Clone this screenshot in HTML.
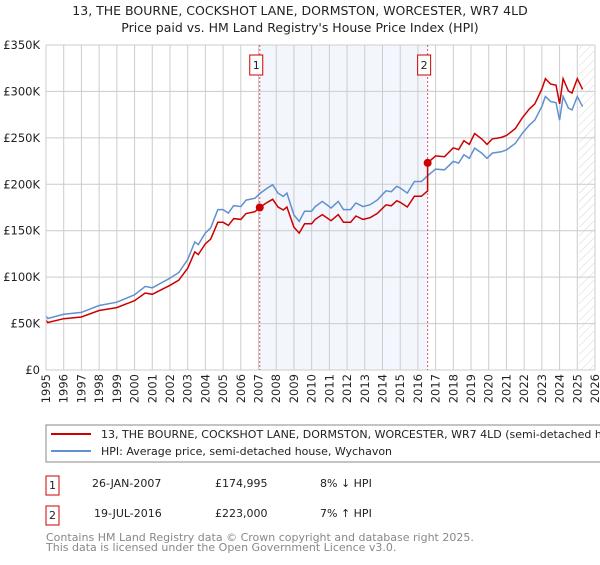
<!DOCTYPE html>
<html><head><meta charset="utf-8"><style>
body{margin:0;background:#fff;font-family:"Liberation Sans","DejaVu Sans",sans-serif;}
svg text{font-family:"DejaVu Sans","Liberation Sans",sans-serif;}
</style></head><body>
<svg id="chart" width="600" height="560" viewBox="0 0 600 560">
<defs><pattern id="hatch" patternUnits="userSpaceOnUse" width="6" height="6" patternTransform="rotate(45)"><line x1="0" y1="0" x2="0" y2="6" stroke="#ccc" stroke-width="0.8"/></pattern></defs>
<text x="300" y="15" font-size="12.5" text-anchor="middle" fill="#222">13, THE BOURNE, COCKSHOT LANE, DORMSTON, WORCESTER, WR7 4LD</text>
<text x="300" y="32" font-size="12.5" text-anchor="middle" fill="#222">Price paid vs. HM Land Registry's House Price Index (HPI)</text>
<g id="plot"></g>
<rect x="46" y="425" width="560" height="37" fill="#fff" stroke="#888"/>
<line x1="51" y1="434" x2="91" y2="434" stroke="#cc0000" stroke-width="2"/>
<text x="101" y="438" font-size="11" fill="#222">13, THE BOURNE, COCKSHOT LANE, DORMSTON, WORCESTER, WR7 4LD (semi-detached house)</text>
<line x1="51" y1="451" x2="91" y2="451" stroke="#6090d0" stroke-width="2"/>
<text x="101" y="455" font-size="11" fill="#222">HPI: Average price, semi-detached house, Wychavon</text>
<rect x="46" y="476" width="13" height="19" fill="#fff" stroke="#cc0000"/>
<text x="52.5" y="489" font-size="11" text-anchor="middle" fill="#222">1</text>
<text x="92" y="487" font-size="11" fill="#222">26-JAN-2007</text>
<text x="215" y="487" font-size="11" fill="#222">£174,995</text>
<text x="320" y="487" font-size="11" fill="#222">8% ↓ HPI</text>
<rect x="46" y="506" width="13" height="19" fill="#fff" stroke="#cc0000"/>
<text x="52.5" y="519" font-size="11" text-anchor="middle" fill="#222">2</text>
<text x="94" y="517" font-size="11" fill="#222">19-JUL-2016</text>
<text x="215" y="517" font-size="11" fill="#222">£223,000</text>
<text x="320" y="517" font-size="11" fill="#222">7% ↑ HPI</text>
<text x="46" y="541" font-size="11" fill="#888">Contains HM Land Registry data © Crown copyright and database right 2025.</text>
<text x="46" y="551" font-size="11" fill="#888">This data is licensed under the Open Government Licence v3.0.</text>
</svg>
<script>
const hpiYears=[1995.0,1995.1,1996,1997,1998,1999,2000,2000.6,2001,2002,2002.5,2003,2003.4,2003.6,2004,2004.3,2004.7,2005,2005.3,2005.6,2006,2006.3,2006.8,2007.1,2007.5,2007.8,2008.1,2008.4,2008.6,2009.0,2009.3,2009.6,2010.0,2010.2,2010.6,2011.1,2011.5,2011.8,2012.2,2012.5,2012.9,2013.3,2013.7,2014.2,2014.5,2014.8,2015.0,2015.4,2015.8,2016.2,2016.5,2017.0,2017.5,2018.0,2018.3,2018.6,2018.9,2019.2,2019.6,2019.9,2020.2,2020.7,2021.0,2021.5,2021.9,2022.3,2022.6,2023.0,2023.2,2023.5,2023.8,2024.0,2024.2,2024.5,2024.7,2025.0,2025.3];
const hpiValues=[58000,55500,60000,62000,69500,73000,81000,90000,88500,99000,105000,119000,138000,135000,147600,153000,172700,172700,169000,177000,176000,183000,185000,190500,196000,199500,190500,187000,190500,167000,160000,171000,171000,176000,181600,174500,181600,172700,172700,180000,176000,178000,183000,193000,192000,197800,196000,190500,203000,203000,208500,216400,215600,224600,222800,231800,228000,239000,233600,228000,233600,235000,237000,244000,255000,264000,269000,284000,294500,289000,288000,269000,294500,282000,280000,294500,283600];
const saleDates=[2007.07,2016.55];
const salePrices=[174995,223000];
const yTicks=[0,50000,100000,150000,200000,250000,300000,350000];
const yTickLabels=["£0","£50K","£100K","£150K","£200K","£250K","£300K","£350K"];
const xTicks=[1995,1996,1997,1998,1999,2000,2001,2002,2003,2004,2005,2006,2007,2008,2009,2010,2011,2012,2013,2014,2015,2016,2017,2018,2019,2020,2021,2022,2023,2024,2025,2026];

const NS="http://www.w3.org/2000/svg";
const L=46,R=595,T=45,B=370,x0=1995,x1=2026,yMax=350000;
const X=v=>L+(v-x0)/(x1-x0)*(R-L);
const Y=v=>B-v/yMax*(B-T);
const g=document.getElementById('plot');
function mk(tag,attrs,parent){const e=document.createElementNS(NS,tag);for(const k in attrs)e.setAttribute(k,attrs[k]);(parent||g).appendChild(e);return e;}
function hpiAt(t){for(let i=0;i<hpiYears.length-1;i++){if(t<=hpiYears[i+1]){const f=(t-hpiYears[i])/(hpiYears[i+1]-hpiYears[i]);return hpiValues[i]+f*(hpiValues[i+1]-hpiValues[i]);}}return hpiValues[hpiValues.length-1];}

const bg=mk('rect',{x:L,y:T,width:R-L,height:B-T,fill:'#fff'});


const shade=mk('rect',{x:X(saleDates[0]),y:T,width:X(saleDates[1])-X(saleDates[0]),height:B-T,fill:'#eef3fc',opacity:0.7});


const hx=X(2025.1);
const hatch=mk('rect',{x:hx,y:T,width:R-hx,height:B-T,fill:'url(#hatch)'});


xTicks.forEach(t=>{
  const l=mk('line',{x1:X(t),x2:X(t),y1:T,y2:B,stroke:'#ccc','stroke-width':1});
  
  
  const tx=mk('text',{x:0,y:0,'font-size':11.5,fill:'#222','text-anchor':'end',transform:`translate(${X(t)+4},${B+4}) rotate(-90)`});
  tx.textContent=t;
  
  
});
yTicks.forEach((t,i)=>{
  const l=mk('line',{x1:L,x2:R,y1:Y(t),y2:Y(t),stroke:'#ccc','stroke-width':1});
  
  
  const tx=mk('text',{x:L-6,y:Y(t)+4,'font-size':11.5,fill:'#222','text-anchor':'end'});
  tx.textContent=yTickLabels[i];
  
  
});
saleDates.forEach((d,i)=>{
  const l=mk('line',{x1:X(d),x2:X(d),y1:T,y2:B,stroke:'#e05050','stroke-width':1,'stroke-dasharray':'2,2'});
  
  
  const bx=mk('rect',{x:X(d)-10,y:T+10,width:13,height:20,fill:'#fff',stroke:'#cc0000'});
  
  
  const tx=mk('text',{x:X(d)-3.5,y:T+24,'font-size':11,fill:'#222','text-anchor':'middle'});
  tx.textContent=String(i+1);
});
const hp=mk('path',{d:hpiYears.map((t,i)=>(i?'L':'M')+X(t).toFixed(1)+','+Y(hpiValues[i]).toFixed(1)).join(''),fill:'none',stroke:'#6090d0','stroke-width':1.5});


const r1=salePrices[0]/hpiAt(saleDates[0]), r2=salePrices[1]/hpiAt(saleDates[1]);
let pts=[];
hpiYears.forEach((t,i)=>{if(t<saleDates[1]){pts.push([t,hpiValues[i]*r1]);}});
pts.push([saleDates[1],hpiAt(saleDates[1])*r1]);
pts.push([saleDates[1],salePrices[1]]);
hpiYears.forEach((t,i)=>{if(t>saleDates[1])pts.push([t,hpiValues[i]*r2]);});
const pp=mk('path',{d:pts.map((p,i)=>(i?'L':'M')+X(p[0]).toFixed(1)+','+Y(p[1]).toFixed(1)).join(''),fill:'none',stroke:'#cc0000','stroke-width':1.5});


saleDates.forEach((d,i)=>{
  const c=mk('circle',{cx:X(d),cy:Y(salePrices[i]),r:4,fill:'#cc0000'});
  
  
});
const ax=mk('line',{x1:L,x2:L,y1:T,y2:B,stroke:'#ccc'});


</script>
</body></html>
